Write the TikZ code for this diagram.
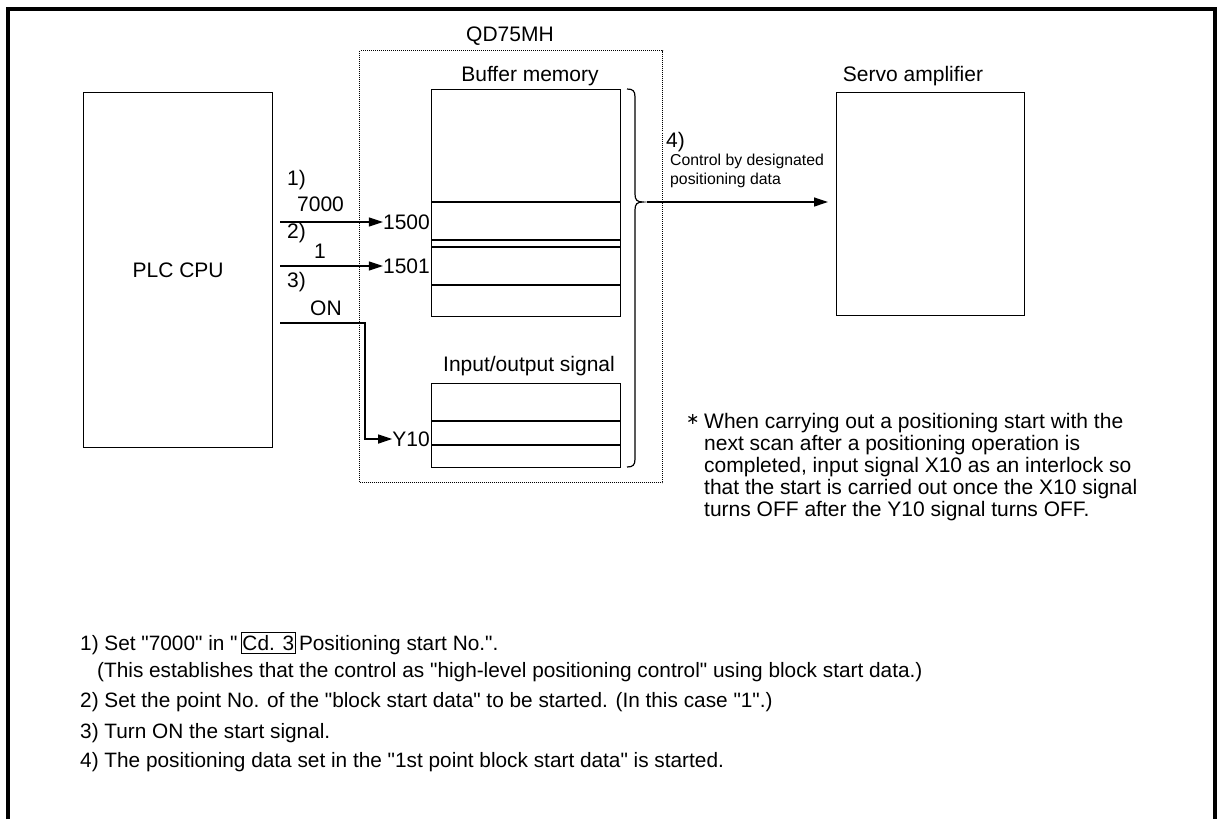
\documentclass[tikz,border=0pt]{standalone}
\usepackage{fontspec}
\setmainfont{Liberation Sans}[Ligatures=TeXOff]
\newfontfamily\djv{DejaVu Sans}
\usetikzlibrary{arrows.meta}
\begin{document}
\begin{tikzpicture}[x=1pt,y=-1pt,
  box/.style={draw,line width=1.2pt,rectangle,inner sep=0pt},
  qdbox/.style={draw,line width=1pt,densely dotted,rectangle,inner sep=0pt},
  lbl/.style={font=\fontsize{21}{24}\selectfont,inner sep=0pt},
  small/.style={font=\fontsize{15.8}{18.5}\selectfont,inner sep=0pt},
  conn/.style={line width=1.2pt},
  arr/.style={line width=1.2pt,-{Triangle[length=14pt,width=9pt]}},
  note/.style={font=\fontsize{21}{22}\selectfont,inner sep=0pt,align=left},
  bot/.style={font=\fontsize{20.8}{24}\selectfont,inner sep=0pt,anchor=west}]
\useasboundingbox (0,0) rectangle (1217,819);
\draw[line width=4pt] (8,819) -- (8,9) -- (1215,9) -- (1215,819);

% main boxes
\node[box,minimum width=189,minimum height=355,anchor=north west,lbl] (plc) at (83,92) {PLC CPU};
\node[qdbox,minimum width=303,minimum height=432,anchor=north west] (qd) at (359,50) {};
\node[lbl,anchor=south] (qdl) at (510,46) {QD75MH};
\node[box,minimum width=189,minimum height=227,anchor=north west] (buf) at (431,89) {};
\node[lbl,anchor=south] (bufl) at (530,86) {Buffer memory};
\node[box,minimum width=189,minimum height=84,anchor=north west] (io) at (431,383) {};
\node[lbl,anchor=south] (iol) at (529,376) {Input/output signal};
\node[box,minimum width=188,minimum height=223,anchor=north west] (servo) at (836,92) {};
\node[lbl,anchor=south] (servol) at (913,86) {Servo amplifier};

% inner rows
\draw[conn] (431,202) -- (620,202);
\draw[conn] (431,240) -- (620,240);
\draw[conn] (431,247) -- (620,247);
\draw[conn] (431,285) -- (620,285);
\draw[conn] (431,421) -- (620,421);
\draw[conn] (431,445) -- (620,445);

% labels and arrows on left
\node[lbl,anchor=west] (n1) at (287,180) {1)};
\node[lbl,anchor=west] (v7000) at (297,204) {7000};
\node[lbl,anchor=west] (n2) at (287,233) {2)};
\node[lbl,anchor=west] (v1) at (314,251) {1};
\node[lbl,anchor=west] (n3) at (287,282) {3)};
\node[lbl,anchor=west] (von) at (310,308) {ON};
\node[lbl,anchor=east] (a1500) at (430,222) {1500};
\node[lbl,anchor=east] (a1501) at (430,266) {1501};
\node[lbl,anchor=east] (ay10) at (430,439) {Y10};
\coordinate (s1) at (280,222);
\coordinate (s2) at (280,266);
\coordinate (s3) at (280,323);
\coordinate (c3) at (365,323);
\draw[arr] (s1) -- (a1500.west);
\draw[arr] (s2) -- (a1501.west);
\draw[arr] (s3) -- (c3) |- (ay10.west);

% brace
\coordinate (btip) at (643,202);
\draw[line width=1.2pt] (627,89) .. controls (633,89) and (635,91) .. (635,97)
  -- (635,194) .. controls (635,200) and (637,202) .. (btip)
  .. controls (637,202) and (635,204) .. (635,210)
  -- (635,459) .. controls (635,465) and (633,467) .. (627,467);
\coordinate (bst) at (647,202);
\draw[arr] (bst) -- (servo.west |- bst) [shorten >=8pt];

\node[lbl,anchor=west] (n4) at (666,142) {4)};
\node[small,anchor=west,align=left] (ctl) at (670,171) {Control by designated\\positioning data};

% note
\node[note,anchor=north west] (star) at (686,414) {{\djv\fontsize{16}{20}\selectfont ∗}};
\node[note,anchor=north west] (nt) at (704,413) {When carrying out a positioning start with the\\next scan after a positioning operation is\\completed, input signal X10 as an interlock so\\that the start is carried out once the X10 signal\\turns OFF after the Y10 signal turns OFF.};

% bottom text
\node[bot] (b1) at (80,643) {1) Set "7000" in "\,\fbox{\kern-2pt Cd. 3\kern-2pt}\,Positioning start No.".};
\node[bot] (b1b) at (97,672) {(This establishes that the control as "high-level positioning control" using block start data.)};
\node[bot] (b2) at (80,702) {2) Set the point No. of the "block start data" to be started. (In this case "1".)};
\node[bot] (b3) at (80,733) {3) Turn ON the start signal.};
\node[bot] (b4) at (80,762) {4) The positioning data set in the "1st point block start data" is started.};
\end{tikzpicture}
\end{document}
